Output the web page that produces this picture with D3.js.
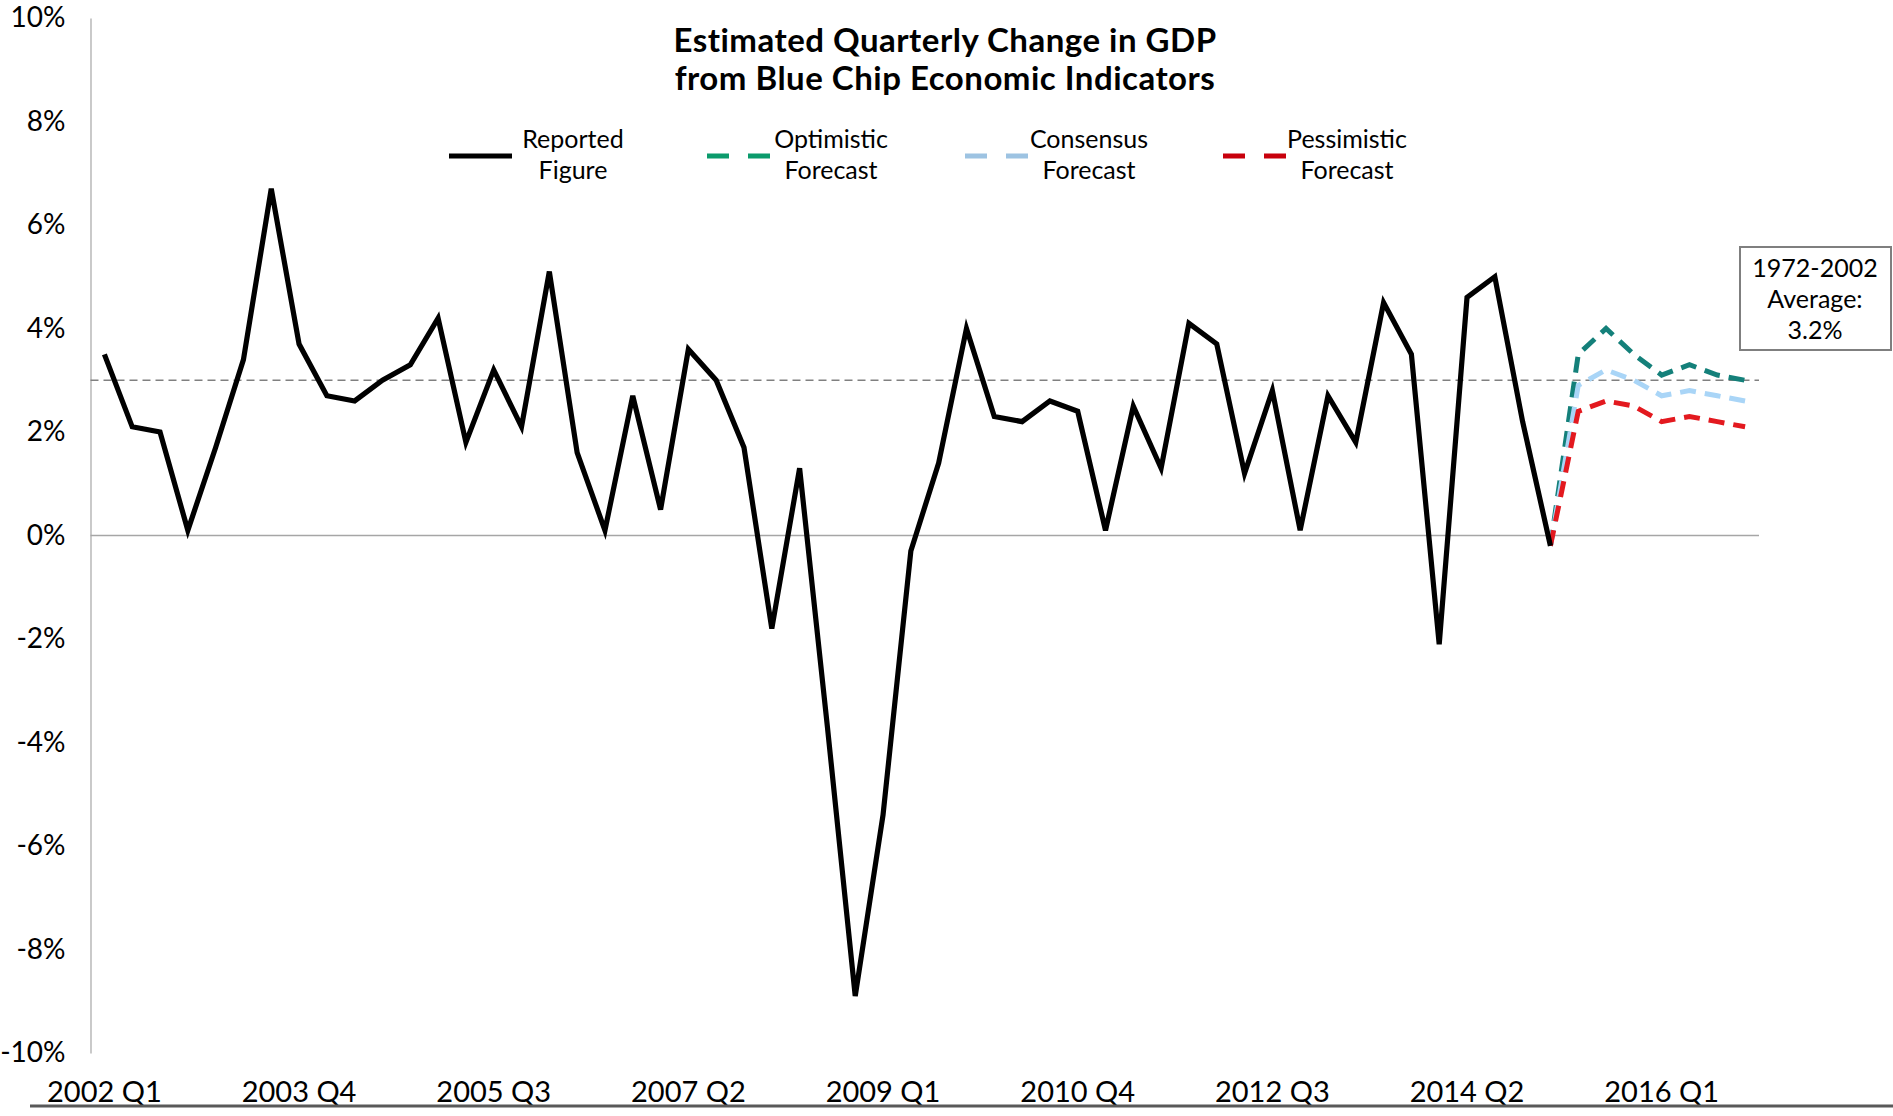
<!DOCTYPE html>
<html>
<head>
<meta charset="utf-8">
<script src="https://cdn.jsdelivr.net/npm/d3@7/dist/d3.min.js"></script>
<style>
    body { margin: 0; background: #ffffff; }
    #vis text { font-family: Lato, "Open Sans", sans-serif; fill: #000; }
</style>
</head>
<body>
<svg id="vis" width="1893" height="1116"></svg>
<script>
/**
 * Chart data
 */
var years = [2002, 2003, 2004, 2005, 2006, 2007, 2008, 2009, 2010, 2011, 2012, 2013, 2014, 2015, 2016];
var quarters = [];
years.forEach(function(yr){
    ["Q1", "Q2", "Q3", "Q4"].forEach(function(q){ quarters.push(yr + " " + q); });
});

var xTickLabels = ["2002 Q1", "2003 Q4", "2005 Q3", "2007 Q2", "2009 Q1", "2010 Q4", "2012 Q3", "2014 Q2", "2016 Q1"];
var yTickValues = [-10, -8, -6, -4, -2, 0, 2, 4, 6, 8, 10];

// reported figure, 2002 Q1 .. 2015 Q1
var reported = [3.5, 2.1, 2.0, 0.1, 1.7, 3.4, 6.7, 3.7, 2.7, 2.6, 3.0, 3.3,
                4.2, 1.8, 3.2, 2.1, 5.1, 1.6, 0.1, 2.7, 0.5, 3.6, 3.0, 1.7,
                -1.8, 1.3, -3.7, -8.9, -5.4, -0.3, 1.4, 4.0, 2.3, 2.2, 2.6, 2.4,
                0.1, 2.5, 1.3, 4.1, 3.7, 1.2, 2.8, 0.1, 2.7, 1.8, 4.5, 3.5,
                -2.1, 4.6, 5.0, 2.2, -0.2];

// forecasts, 2015 Q1 .. 2016 Q4 (start at last reported quarter)
var forecastStart = "2015 Q1";
var optimistic  = [-0.2, 3.5, 4.0, 3.5, 3.1, 3.3, 3.1, 3.0];
var consensus   = [-0.2, 2.9, 3.2, 3.0, 2.7, 2.8, 2.7, 2.6];
var pessimistic = [-0.2, 2.4, 2.6, 2.5, 2.2, 2.3, 2.2, 2.1];

var historicalAverage = 3.0;   // where the dashed line sits
var averageLabel = ["1972-2002", "Average:", "3.2%"];

var titleLines = ["Estimated Quarterly Change in GDP", "from Blue Chip Economic Indicators"];
var legendLabels = [["Reported", "Figure"], ["Optimistic", "Forecast"], ["Consensus", "Forecast"], ["Pessimistic", "Forecast"]];
var legendColors = ["#000000", "#0b9b6c", "#9dc3e2", "#c8000c"];
var lineColors = ["#000000", "#14807a", "#a9d5f7", "#e3191f"];

/**
 * Globals
 */
var _vis = d3.select("#vis");
var _x, _y;

window.onload = function(){
    setup();
};

function setup(){
    _x = d3.scaleBand()
        .domain(quarters)
        .range([90.5, 1759]);

    _y = d3.scaleLinear()
        .domain([-10, 10])
        .range([1053, 18]);

    drawAxes();
    drawReferenceLines();
    drawSeries();
    drawTitle();
    drawLegend();
    drawAverageBox();
}

// center of a category band
function xPos(q){
    return _x(q) + _x.bandwidth() / 2;
}

function drawAxes(){
    var yAxis = _vis.append("g")
        .attr("class", "y axis")
        .attr("transform", "translate(90.5,0)")
        .call(d3.axisLeft(_y)
            .tickValues(yTickValues)
            .tickSize(0)
            .tickPadding(25)
            .tickFormat(function(d){ return d + "%"; }));
    yAxis.select(".domain").attr("stroke", "#a6a6a6").attr("stroke-width", 1.2);
    yAxis.selectAll("text").attr("font-size", 28);

    var xAxis = _vis.append("g")
        .attr("class", "x axis")
        .attr("transform", "translate(0,1053)")
        .call(d3.axisBottom(_x)
            .tickValues(xTickLabels)
            .tickSize(0)
            .tickPadding(28));
    xAxis.select(".domain").remove();
    xAxis.selectAll("text").attr("font-size", 29);

    // bottom rule
    _vis.append("line")
        .attr("x1", 30).attr("x2", 1893)
        .attr("y1", 1106).attr("y2", 1106)
        .attr("stroke", "#595959")
        .attr("stroke-width", 3);
}

function drawReferenceLines(){
    var r = _x.range();
    _vis.append("line")
        .attr("class", "zero-line")
        .attr("x1", r[0]).attr("x2", r[1])
        .attr("y1", _y(0)).attr("y2", _y(0))
        .attr("stroke", "#a6a6a6")
        .attr("stroke-width", 1.6);

    _vis.append("line")
        .attr("class", "avg-line")
        .attr("x1", r[0]).attr("x2", r[1])
        .attr("y1", _y(historicalAverage)).attr("y2", _y(historicalAverage))
        .attr("stroke", "#808080")
        .attr("stroke-width", 1.6)
        .attr("stroke-dasharray", "8,5");
}

function drawSeries(){
    var start = quarters.indexOf(forecastStart);

    var line = d3.line()
        .x(function(d){ return xPos(d.q); })
        .y(function(d){ return _y(d.v); });

    function toPoints(values, offset){
        return values.map(function(v, i){ return {q: quarters[offset + i], v: v}; });
    }

    var forecasts = [optimistic, consensus, pessimistic];
    forecasts.forEach(function(f, i){
        _vis.append("path")
            .datum(toPoints(f, start))
            .attr("class", "forecast")
            .attr("fill", "none")
            .attr("stroke", lineColors[i + 1])
            .attr("stroke-width", 5)
            .attr("stroke-dasharray", "16,9")
            .attr("d", line);
    });

    _vis.append("path")
        .datum(toPoints(reported, 0))
        .attr("class", "reported")
        .attr("fill", "none")
        .attr("stroke", lineColors[0])
        .attr("stroke-width", 5.2)
        .attr("stroke-linejoin", "miter")
        .attr("d", line);
}

function drawTitle(){
    _vis.append("g").selectAll("text")
        .data(titleLines)
        .enter()
        .append("text")
        .attr("x", 945)
        .attr("y", function(d, i){ return 52 + i * 38; })
        .attr("text-anchor", "middle")
        .attr("font-size", 33)
        .attr("font-weight", "bold")
        .attr("letter-spacing", 0.5)
        .text(function(d){ return d; });
}

function drawLegend(){
    var item = _vis.selectAll("g.legend-item")
        .data(legendLabels)
        .enter()
        .append("g")
        .attr("class", "legend-item")
        .attr("transform", function(d, i){ return "translate(" + (449 + i * 258) + ",0)"; });

    item.append("line")
        .attr("x1", 0).attr("x2", 63)
        .attr("y1", 156).attr("y2", 156)
        .attr("stroke", function(d, i){ return legendColors[i]; })
        .attr("stroke-width", 5)
        .attr("stroke-dasharray", function(d, i){ return i === 0 ? null : "22,19"; });

    item.each(function(d){
        d3.select(this).selectAll("text")
            .data(d)
            .enter()
            .append("text")
            .attr("x", 124)
            .attr("y", function(t, j){ return 148 + j * 31; })
            .attr("text-anchor", "middle")
            .attr("font-size", 25)
            .text(function(t){ return t; });
    });
}

function drawAverageBox(){
    _vis.append("rect")
        .attr("x", 1740).attr("y", 247)
        .attr("width", 151).attr("height", 103)
        .attr("fill", "#ffffff")
        .attr("stroke", "#7f7f7f")
        .attr("stroke-width", 2);

    _vis.append("g").selectAll("text")
        .data(averageLabel)
        .enter()
        .append("text")
        .attr("x", 1815)
        .attr("y", function(d, i){ return 277 + i * 31; })
        .attr("text-anchor", "middle")
        .attr("font-size", 25)
        .text(function(d){ return d; });
}
</script>
</body>
</html>
